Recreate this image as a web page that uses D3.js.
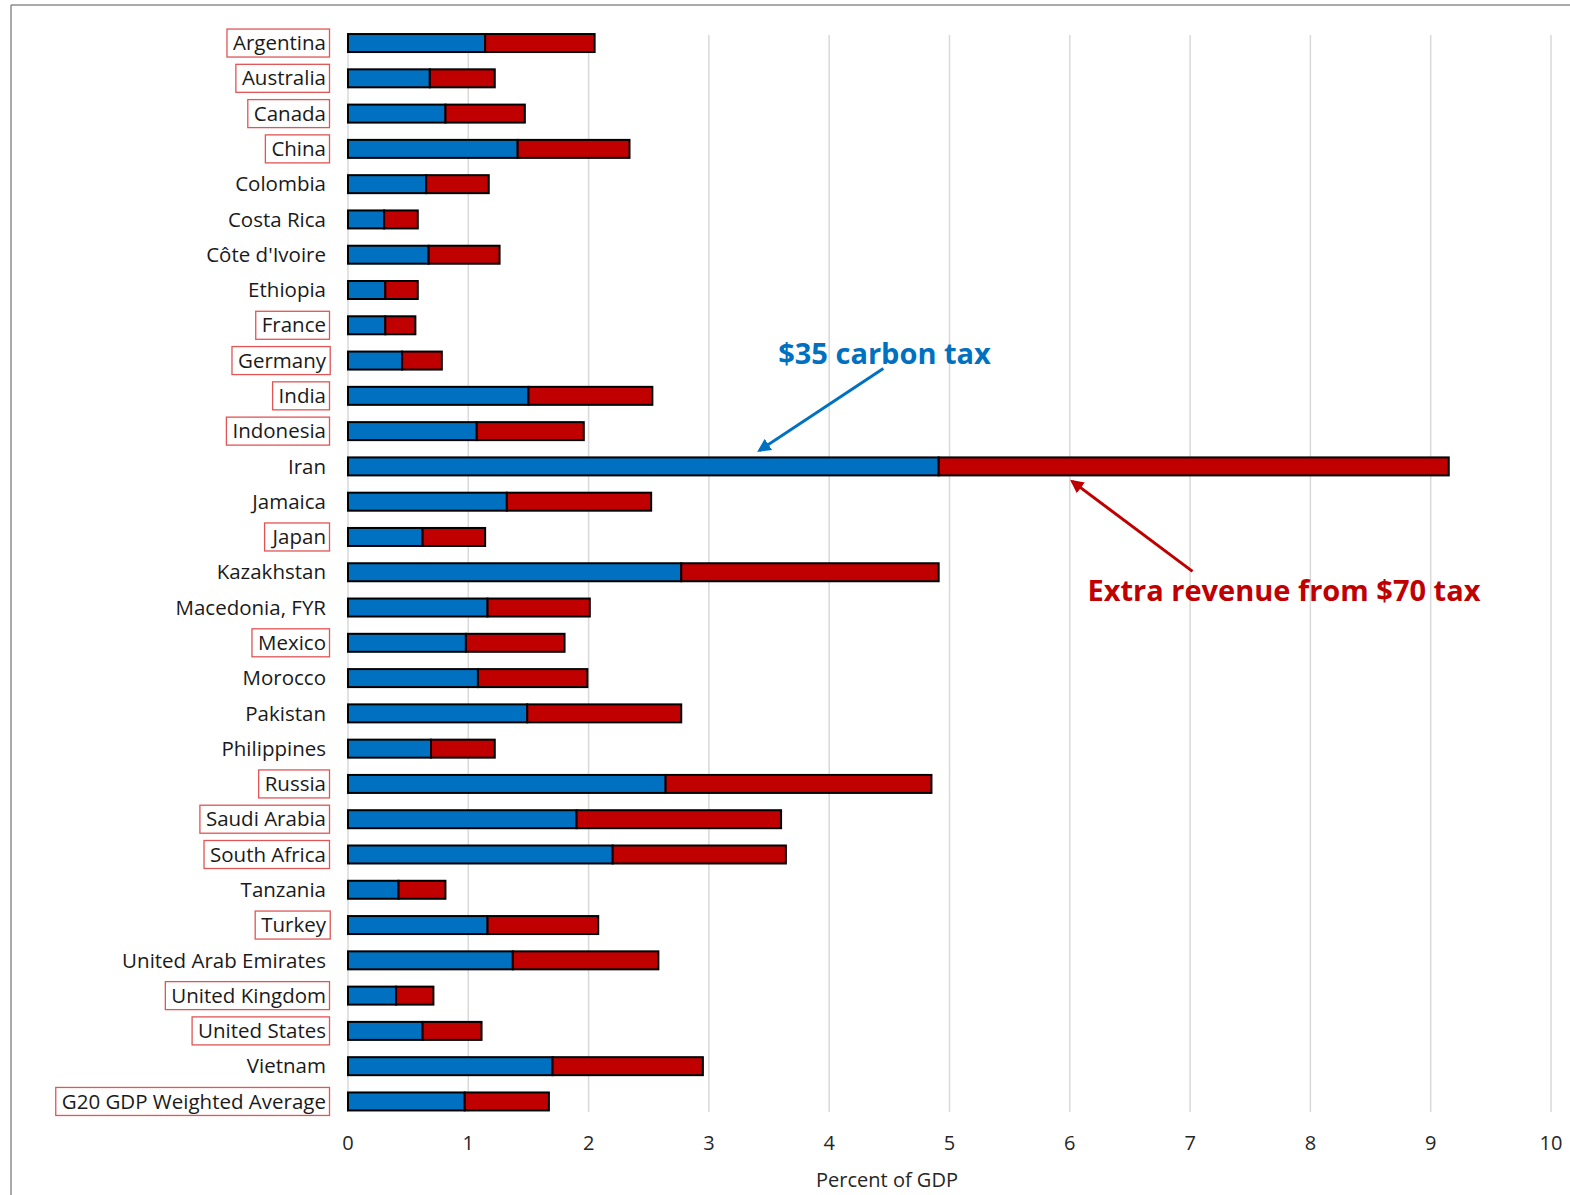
<!DOCTYPE html>
<html>
<head>
<meta charset="utf-8">
<script src="https://cdn.jsdelivr.net/npm/d3@7"></script>
<style>
  html, body { margin: 0; padding: 0; background: #fff; }
  svg { display: block; }
</style>
</head>
<body>
<svg id="chart" width="1570" height="1195"></svg>
<script>
// Carbon tax revenue by country, percent of GDP
const countries = [
  "Argentina", "Australia", "Canada", "China", "Colombia", "Costa Rica",
  "Côte d'Ivoire", "Ethiopia", "France", "Germany", "India", "Indonesia",
  "Iran", "Jamaica", "Japan", "Kazakhstan", "Macedonia, FYR", "Mexico",
  "Morocco", "Pakistan", "Philippines", "Russia", "Saudi Arabia",
  "South Africa", "Tanzania", "Turkey", "United Arab Emirates",
  "United Kingdom", "United States", "Vietnam", "G20 GDP Weighted Average"
];

// Revenue from a $35 carbon tax
const tax35 = [
  1.14, 0.68, 0.81, 1.41, 0.65, 0.30,
  0.67, 0.31, 0.31, 0.45, 1.50, 1.07,
  4.91, 1.32, 0.62, 2.77, 1.16, 0.98,
  1.08, 1.49, 0.69, 2.64, 1.90,
  2.20, 0.42, 1.16, 1.37,
  0.40, 0.62, 1.70, 0.97
];

// Additional revenue when the tax rises to $70
const extra70 = [
  0.91, 0.54, 0.66, 0.93, 0.52, 0.28,
  0.59, 0.27, 0.25, 0.33, 1.03, 0.89,
  4.24, 1.20, 0.52, 2.14, 0.85, 0.82,
  0.91, 1.28, 0.53, 2.21, 1.70,
  1.44, 0.39, 0.92, 1.21,
  0.31, 0.49, 1.25, 0.70
];

// G20 members get a framed label
const g20 = [
  "Argentina", "Australia", "Canada", "China", "France", "Germany", "India",
  "Indonesia", "Japan", "Mexico", "Russia", "Saudi Arabia", "South Africa",
  "Turkey", "United Kingdom", "United States", "G20 GDP Weighted Average"
];

const xTicks = [0, 1, 2, 3, 4, 5, 6, 7, 8, 9, 10];
const xTitle = "Percent of GDP";
const note35 = "$35 carbon tax";
const note70 = "Extra revenue from $70 tax";

const BLUE = "#0070C0";
const RED = "#C00000";
const FONT = "'Open Sans', 'Noto Sans', sans-serif";

const svg = d3.select("#chart");

const x = d3.scaleLinear().domain([0, 10]).range([348, 1551]);
const y = d3.scaleBand()
  .domain(countries)
  .range([25.4, 1119.1])
  .paddingInner(0.49)
  .paddingOuter(0.245);

// Outer frame (top and left edges)
svg.append("line").attr("x1", 11).attr("x2", 1570).attr("y1", 5).attr("y2", 5)
  .attr("stroke", "#8c8c8c").attr("stroke-width", 1.5);
svg.append("line").attr("x1", 11).attr("x2", 11).attr("y1", 5).attr("y2", 1195)
  .attr("stroke", "#8c8c8c").attr("stroke-width", 1.5);

// Vertical gridlines
svg.append("g").selectAll("line").data(xTicks).join("line")
  .attr("x1", d => x(d)).attr("x2", d => x(d))
  .attr("y1", 35).attr("y2", 1112)
  .attr("stroke", "#d9d9d9").attr("stroke-width", 1.5);

// Stacked bars
const rows = countries.map((c, i) => ({ c, a: tax35[i], b: extra70[i] }));
const barG = svg.append("g");
barG.selectAll("rect.s35").data(rows).join("rect")
  .attr("class", "s35")
  .attr("x", d => x(0))
  .attr("y", d => y(d.c))
  .attr("width", d => x(d.a) - x(0))
  .attr("height", y.bandwidth())
  .attr("fill", BLUE).attr("stroke", "#000").attr("stroke-width", 2);
barG.selectAll("rect.s70").data(rows).join("rect")
  .attr("class", "s70")
  .attr("x", d => x(d.a))
  .attr("y", d => y(d.c))
  .attr("width", d => x(d.a + d.b) - x(d.a))
  .attr("height", y.bandwidth())
  .attr("fill", RED).attr("stroke", "#000").attr("stroke-width", 2);

// Category labels
const labelG = svg.append("g");
const labels = labelG.selectAll("text").data(countries).join("text")
  .attr("x", 326)
  .attr("y", d => y(d) + y.bandwidth() / 2)
  .attr("dy", "0.35em")
  .attr("text-anchor", "end")
  .attr("font-family", FONT)
  .attr("font-size", 20.5)
  .attr("fill", "#1a1a1a")
  .text(d => d);

labels.each(function (d) {
  if (!g20.includes(d)) return;
  const bb = this.getBBox();
  const cy = y(d) + y.bandwidth() / 2;
  labelG.append("rect")
    .attr("x", bb.x - 6)
    .attr("y", cy - 14)
    .attr("width", bb.width + 9.5)
    .attr("height", 28)
    .attr("fill", "none")
    .attr("stroke", "#e05555")
    .attr("stroke-width", 1.3);
});

// X axis tick labels
svg.append("g").selectAll("text").data(xTicks).join("text")
  .attr("x", d => x(d))
  .attr("y", 1143)
  .attr("dy", "0.35em")
  .attr("text-anchor", "middle")
  .attr("font-family", FONT)
  .attr("font-size", 20)
  .attr("fill", "#262626")
  .text(d => d);

svg.append("text")
  .attr("x", 887).attr("y", 1180).attr("dy", "0.35em")
  .attr("text-anchor", "middle")
  .attr("font-family", FONT)
  .attr("font-size", 20)
  .attr("fill", "#262626")
  .text(xTitle);

// Annotations with arrows
const defs = svg.append("defs");
function marker(id, color) {
  defs.append("marker")
    .attr("id", id)
    .attr("viewBox", "0 0 10 10")
    .attr("refX", 8).attr("refY", 5)
    .attr("markerWidth", 4.5).attr("markerHeight", 4.5)
    .attr("orient", "auto")
    .append("path").attr("d", "M0,0 L10,5 L0,10 z").attr("fill", color);
}
marker("arrowBlue", BLUE);
marker("arrowRed", RED);

const iranY = y("Iran");
const iranB = iranY + y.bandwidth();

svg.append("line")
  .attr("x1", x(4.45)).attr("y1", iranY - 89)
  .attr("x2", x(3.42)).attr("y2", iranY - 7)
  .attr("stroke", BLUE).attr("stroke-width", 3)
  .attr("marker-end", "url(#arrowBlue)");
svg.append("text")
  .attr("x", x(4.46)).attr("y", 364)
  .attr("text-anchor", "middle")
  .attr("font-family", FONT)
  .attr("font-weight", 700)
  .attr("font-size", 29)
  .attr("fill", BLUE)
  .text(note35);

svg.append("line")
  .attr("x1", x(7.02)).attr("y1", iranB + 96)
  .attr("x2", x(6.02)).attr("y2", iranB + 6)
  .attr("stroke", RED).attr("stroke-width", 3)
  .attr("marker-end", "url(#arrowRed)");
svg.append("text")
  .attr("x", x(7.78)).attr("y", 601)
  .attr("text-anchor", "middle")
  .attr("font-family", FONT)
  .attr("font-weight", 700)
  .attr("font-size", 29)
  .attr("fill", RED)
  .text(note70);
</script>
</body>
</html>
